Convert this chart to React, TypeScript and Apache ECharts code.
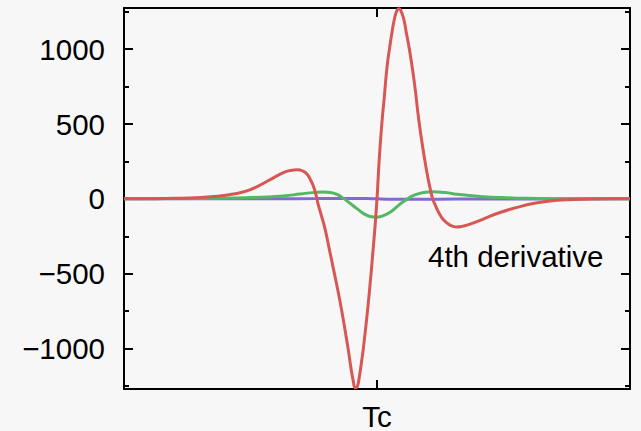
import React, { useEffect, useRef } from "react";
import * as echarts from "echarts";

// x positions are in relative temperature units, Tc at 0
const redX = [-50, -44.8, -39.8, -34.9, -31.5, -28.4, -25.0, -21.7, -18.5, -17.1, -15.7, -14.6, -13.8, -13.2, -12.6, -12.0, -11.6, -11.0, -10.2, -9.4, -8.6, -7.8, -6.9, -6.3, -5.7, -5.1, -4.7, -4.3, -3.9, -3.5, -3.1, -2.7, -2.1, -1.5, -0.9, -0.4, 0, 0.4, 0.9, 1.4, 2.0, 2.5, 3.0, 3.5, 4.0, 4.4, 4.8, 5.3, 5.8, 6.4, 7.0, 7.6, 8.1, 8.7, 9.3, 9.9, 10.5, 11.0, 11.5, 12.1, 12.7, 13.3, 14.1, 14.9, 15.8, 17.0, 18.4, 21.0, 24.3, 27.7, 30.8, 34.2, 37.6, 41.1, 46.1, 50];
const redY = [0, 1, 4, 10, 18, 32, 62, 118, 175, 190, 195, 185, 165, 130, 87, 20, -40, -110, -210, -340, -469, -600, -760, -880, -1002, -1140, -1215, -1262, -1255, -1190, -1100, -1000, -820, -620, -390, -190, 0, 240, 480, 665, 887, 1010, 1120, 1210, 1262, 1270, 1250, 1200, 1109, 1000, 870, 720, 570, 420, 290, 170, 70, 0, -40, -85, -120, -145, -168, -182, -188, -182, -169, -135, -91, -57, -31, -14, -6, -2, 0, 0];

const greenX = [-50, -34.9, -25.0, -18.5, -15.2, -11.8, -10.6, -9.2, -7.8, -6.7, -5.3, -3.9, -2.3, -1.1, -0.1, 1.0, 2.6, 4.2, 6.0, 7.6, 9.2, 11.1, 13.5, 15.8, 18.4, 21.0, 24.3, 27.7, 34.2, 44.1, 50];
const greenY = [0, 2, 9, 20, 32, 45, 46, 43, 28, 5, -30, -67, -105, -120, -123, -115, -89, -45, 0, 28, 43, 48, 42, 31, 22, 15, 9, 5, 1, 0, 0];

const purpleX = [-50, -30, -20, -12, -7, -4, -2, 0, 2, 4, 7, 12, 20, 30, 50];
const purpleY = [0, 0.3, 1, 2, 3, 3, 2, 0, -2, -3, -3, -2, -1, -0.3, 0];

const xTickValues = [0];
const xTickLabels = ["Tc"];
const yMajorTicks = [-1000, -500, 0, 500, 1000];
const yMinorTicks = [-1250, -750, -250, 250, 750, 1250];

const annotation = "4th derivative";

const FONT = "'Liberation Sans', Arial, Helvetica, sans-serif";
const FS = 29.5;

const zip = (xs: number[], ys: number[]) => xs.map((x, i) => [x, ys[i]]);

export default function App() {
  const ref = useRef<HTMLDivElement>(null);
  useEffect(() => {
    if (!ref.current) return;
    const chart = echarts.init(ref.current, undefined, { renderer: "svg" });
    const line = { color: "#000", width: 2 };
    const yBase = {
      type: "value",
      min: -1270,
      max: 1275,
      splitLine: { show: false },
    };
    const xBase = {
      type: "value",
      min: -50,
      max: 50,
      splitLine: { show: false },
    };
    chart.setOption({
      animation: false,
      backgroundColor: "#f7f7f7",
      grid: { left: 124, right: 11, top: 8, bottom: 41, containLabel: false },
      xAxis: [
        {
          ...xBase,
          position: "bottom",
          axisLine: { show: true, onZero: false, lineStyle: line },
          axisTick: { show: true, inside: true, length: 9, customValues: xTickValues, lineStyle: line },
          axisLabel: {
            show: true,
            customValues: xTickValues,
            formatter: (v: number) => xTickLabels[xTickValues.indexOf(v)] ?? "",
            fontSize: FS,
            color: "#000",
            fontFamily: FONT,
            margin: 12,
          },
        },
        {
          ...xBase,
          position: "top",
          axisLine: { show: true, onZero: false, lineStyle: line },
          axisTick: { show: true, inside: true, length: 9, customValues: xTickValues, lineStyle: line },
          axisLabel: { show: false },
        },
      ],
      yAxis: [
        {
          ...yBase,
          position: "left",
          axisLine: { show: true, onZero: false, lineStyle: line },
          axisTick: { show: true, inside: true, length: 9, customValues: yMajorTicks, lineStyle: line },
          axisLabel: {
            show: true,
            customValues: yMajorTicks,
            formatter: (v: number) => (v < 0 ? "\u2212" + Math.abs(v) : String(v)),
            fontSize: FS,
            color: "#000",
            fontFamily: FONT,
            margin: 19,
          },
        },
        {
          ...yBase,
          position: "right",
          axisLine: { show: true, onZero: false, lineStyle: line },
          axisTick: { show: true, inside: true, length: 9, customValues: yMajorTicks, lineStyle: line },
          axisLabel: { show: false },
        },
        {
          ...yBase,
          position: "left",
          axisLine: { show: false, onZero: false },
          axisTick: { show: true, inside: true, length: 5, customValues: yMinorTicks, lineStyle: line },
          axisLabel: { show: false },
        },
        {
          ...yBase,
          position: "right",
          axisLine: { show: false, onZero: false },
          axisTick: { show: true, inside: true, length: 5, customValues: yMinorTicks, lineStyle: line },
          axisLabel: { show: false },
        },
      ],
      series: [
        {
          name: "2nd",
          type: "line",
          data: zip(purpleX, purpleY),
          showSymbol: false,
          smooth: true,
          lineStyle: { color: "#8468d4", width: 3 },
          itemStyle: { color: "#8468d4" },
          xAxisIndex: 0,
          yAxisIndex: 0,
          z: 2,
        },
        {
          name: "3rd",
          type: "line",
          data: zip(greenX, greenY),
          showSymbol: false,
          smooth: true,
          lineStyle: { color: "#55b666", width: 3 },
          itemStyle: { color: "#55b666" },
          xAxisIndex: 0,
          yAxisIndex: 0,
          z: 3,
        },
        {
          name: "4th",
          type: "line",
          data: zip(redX, redY),
          showSymbol: false,
          smooth: true,
          lineStyle: { color: "#d65753", width: 3 },
          itemStyle: { color: "#d65753" },
          xAxisIndex: 0,
          yAxisIndex: 0,
          z: 4,
        },
      ],
      graphic: [
        {
          type: "text",
          x: 428,
          y: 256,
          style: {
            text: annotation,
            fontSize: FS,
            fontFamily: FONT,
            fill: "#000",
            verticalAlign: "middle",
          },
        },
      ],
    });
    return () => chart.dispose();
  }, []);
  return (
    <div
      ref={ref}
      style={{ position: "fixed", left: 0, top: 0, width: 641, height: 431, background: "#f7f7f7" }}
    />
  );
}
